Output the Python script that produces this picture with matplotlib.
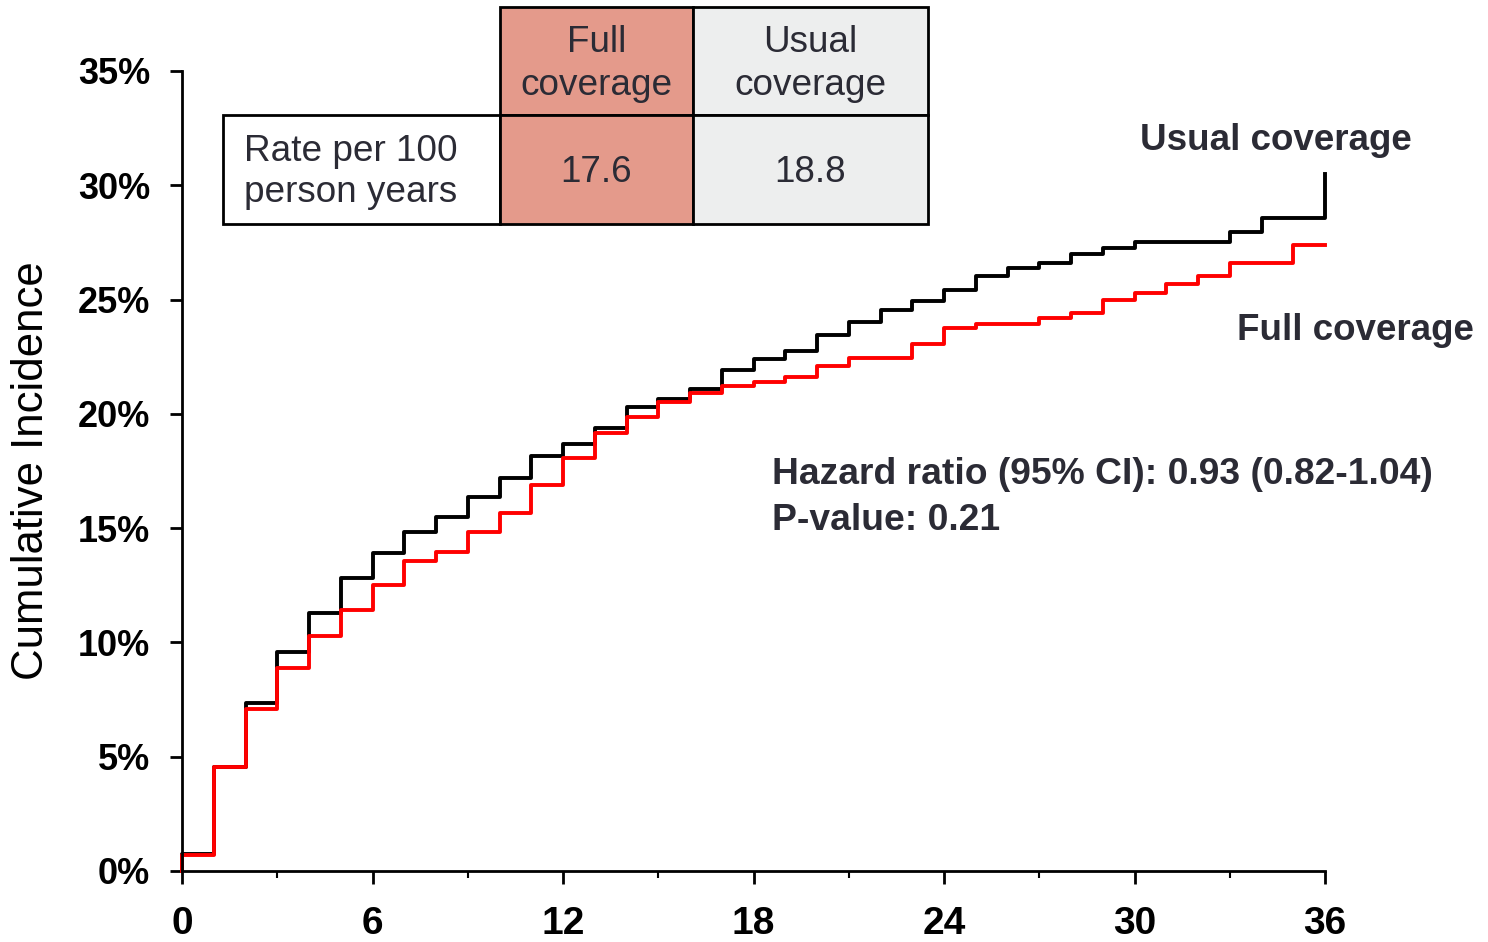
import numpy as np
import matplotlib.pyplot as plt
from matplotlib.patches import Rectangle

plt.rcParams['font.family'] = ['Liberation Sans', 'DejaVu Sans']

# months 0..36, value for each interval [m, m+1), last entry = value at 36
months = np.arange(0, 37)
usual = [0.74, 4.55, 7.35, 9.6, 11.3, 12.8, 13.9, 14.85, 15.5, 16.35,
         17.2, 18.15, 18.7, 19.4, 20.3, 20.65, 21.1, 21.9, 22.4, 22.75,
         23.45, 24.0, 24.55, 24.95, 25.4, 26.05, 26.4, 26.6, 27.0, 27.25,
         27.5, 27.5, 27.5, 27.95, 28.55, 28.55, 30.5]
full = [0.7, 4.55, 7.1, 8.9, 10.3, 11.4, 12.5, 13.55, 13.95, 14.85,
        15.65, 16.9, 18.05, 19.15, 19.85, 20.5, 20.9, 21.2, 21.4, 21.6,
        22.1, 22.45, 22.45, 23.05, 23.75, 23.95, 23.95, 24.2, 24.4, 25.0,
        25.3, 25.7, 26.05, 26.6, 26.6, 27.4, 27.4]

yticks = [0, 5, 10, 15, 20, 25, 30, 35]
xticks = [0, 6, 12, 18, 24, 30, 36]

table_header = ['Full\ncoverage', 'Usual\ncoverage']
table_rowlabel = 'Rate per 100\nperson years'
table_values = ['17.6', '18.8']

W, H = 1488, 942
fig = plt.figure(figsize=(W / 100, H / 100), dpi=100)
ax = fig.add_axes([182 / W, 1 - 871 / H, (1325 - 182) / W, (871 - 71) / H])

x = np.concatenate([[0], months])
ax.step(x, [0] + usual, where='post', color='black', lw=2.8, clip_on=False)
ax.step(x, [0] + full, where='post', color='#ff0000', lw=2.8, clip_on=False)

ax.set_xlim(0, 36)
ax.set_ylim(0, 35)
for s in ['top', 'right']:
    ax.spines[s].set_visible(False)
for s in ['left', 'bottom']:
    ax.spines[s].set_linewidth(2)

ax.set_yticks(yticks)
ax.set_yticklabels([f'{v}%' for v in yticks], fontsize=26, fontweight='bold')
ax.set_xticks(xticks)
ax.set_xticklabels([str(v) for v in xticks], fontsize=28, fontweight='bold')
ax.set_xticks(np.arange(3, 36, 6), minor=True)
ax.tick_params(axis='y', length=9, width=2, pad=14)
ax.tick_params(axis='x', which='major', length=9, width=2, pad=16)
ax.tick_params(axis='x', which='minor', length=5, width=1.5)

fig.text(32 / W, 1 - 471 / H, 'Cumulative Incidence', rotation=90,
         fontsize=31.5, ha='center', va='center')

txtc = '#2b2b35'
fig.text(1140 / W, 1 - 140 / H, 'Usual coverage', fontsize=26.5,
         fontweight='bold', color=txtc, va='center')
fig.text(1237 / W, 1 - 331 / H, 'Full coverage', fontsize=26.5,
         fontweight='bold', color=txtc, va='center')
fig.text(772 / W, 1 - 475 / H, 'Hazard ratio (95% CI): 0.93 (0.82-1.04)',
         fontsize=26.8, fontweight='bold', color=txtc, va='center')
fig.text(772 / W, 1 - 520 / H, 'P-value: 0.21',
         fontsize=26.8, fontweight='bold', color=txtc, va='center')

# table drawn with figure-pixel rectangles
cols = [223, 500, 693, 928]
rows = [7, 115, 224]
fills = ['#e49a8b', '#edeeee']


def cell(x0, x1, y0, y1, fc):
    fig.patches.append(Rectangle((x0 / W, 1 - y1 / H), (x1 - x0) / W, (y1 - y0) / H,
                                 transform=fig.transFigure, facecolor=fc,
                                 edgecolor='black', lw=2))


for i in range(2):
    cell(cols[i + 1], cols[i + 2], rows[0], rows[1], fills[i])
    fig.text((cols[i + 1] + cols[i + 2]) / 2 / W, 1 - 64 / H,
             table_header[i], fontsize=26.6, color=txtc, ha='center', va='center',
             linespacing=1.3)
cell(cols[0], cols[1], rows[1], rows[2], 'white')
fig.text(244 / W, 1 - 172 / H, table_rowlabel, fontsize=26.6,
         color=txtc, ha='left', va='center', linespacing=1.2)
for i in range(2):
    cell(cols[i + 1], cols[i + 2], rows[1], rows[2], fills[i])
    fig.text((cols[i + 1] + cols[i + 2]) / 2 / W, 1 - 172 / H,
             table_values[i], fontsize=26.6, color=txtc, ha='center', va='center')

fig.savefig('out.png', dpi=100)
